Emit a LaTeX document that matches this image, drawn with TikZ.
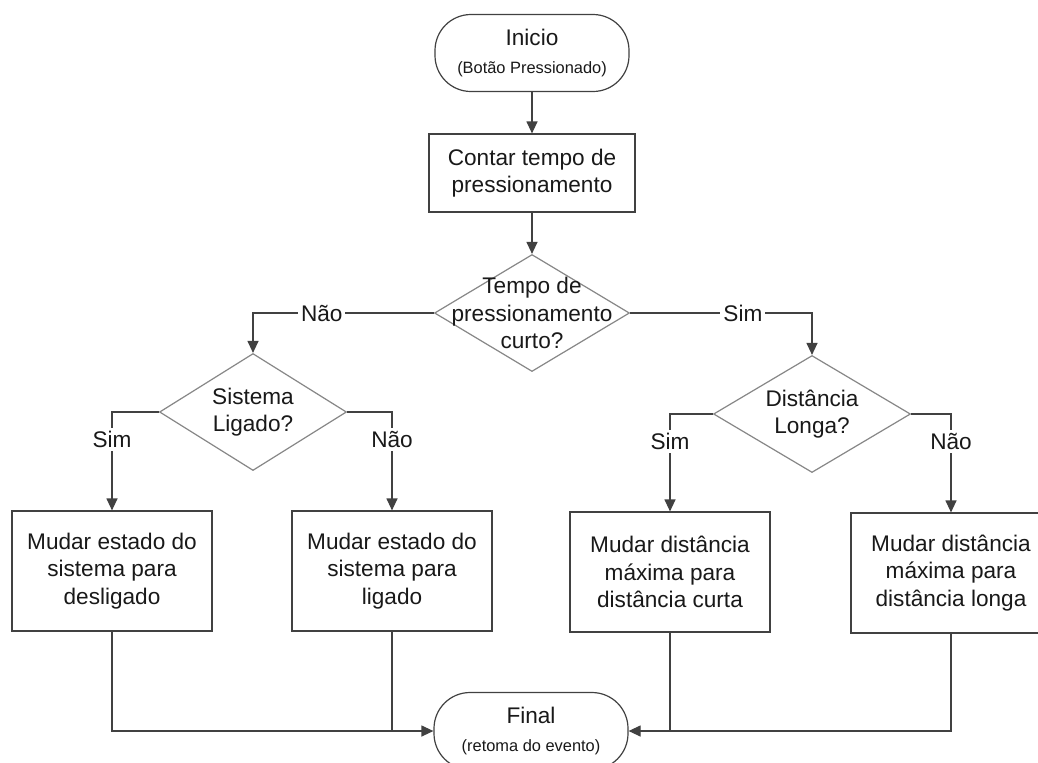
\documentclass[tikz,border=0pt]{standalone}
\usepackage{fontspec}
\setmainfont{Liberation Sans}
\usetikzlibrary{arrows.meta,positioning,shapes.geometric}
\definecolor{ink}{RGB}{25,25,25}
\definecolor{wire}{RGB}{65,65,65}
\definecolor{rim}{RGB}{135,135,135}
\newcommand{\txt}{\fontsize{11.3}{13.8}\selectfont}
\newcommand{\smalltxt}{\fontsize{8.2}{10}\selectfont}
\tikzset{
  term/.style={draw=wire,rounded corners=18pt,minimum width=97pt,minimum height=38.5pt,
    inner sep=2pt,align=center,font=\txt,text=ink},
  proc/.style={draw=wire,minimum width=100pt,minimum height=60pt,inner sep=2pt,
    align=center,font=\txt,text=ink},
  decision/.style={draw=rim,diamond,minimum width=97.5pt,minimum height=58.5pt,inner sep=0pt},
  dtext/.style={align=center,font=\txt,text=ink,inner sep=0pt},
  arr/.style={-{Triangle[length=6pt,width=5.5pt]},wire},
  cond/.style={fill=white,font=\txt,text=ink,inner sep=1.5pt},
}
\begin{document}
\begin{tikzpicture}[x=0.5pt,y=-0.5pt,line width=0.6pt]
  \useasboundingbox[fill=white] (0,0) rectangle (1038,762);
  \clip (0,0) rectangle (1038,762);
  \node[term] (ini) at (532,53) {Inicio\\{\smalltxt(Botão Pressionado)}};
  \node[proc,minimum width=103pt,minimum height=39pt] (cnt) at (532,173)
    {Contar tempo de\\pressionamento};
  \node[decision,label={[dtext]center:{Tempo de\\pressionamento\\curto?}}] (d1) at (532,313) {};
  \node[decision,minimum width=93.5pt,label={[dtext]center:{Sistema\\Ligado?}}] (d2) at (253,412) {};
  \node[decision,minimum width=98.5pt,label={[dtext]center:{Distância\\Longa?}}] (d3) at (812,414) {};
  \node[proc] (b1) at (112,571) {Mudar estado do\\sistema para\\desligado};
  \node[proc] (b2) at (392,571) {Mudar estado do\\sistema para\\ligado};
  \node[proc] (b3) at (670,572) {Mudar distância\\máxima para\\distância curta};
  \node[proc] (b4) at (951,573) {Mudar distância\\máxima para\\distância longa};
  \node[term] (fin) at (531,731) {Final\\{\smalltxt(retoma do evento)}};
  \draw[arr] (ini) -- (cnt);
  \draw[arr] (cnt) -- (d1);
  \draw[arr] (d1.west) -| node[cond,pos=0.31]{Não} (d2.north);
  \draw[arr] (d1.east) -| node[cond,pos=0.31]{Sim} (d3.north);
  \foreach \a/\s/\b/\t in {d2/west/b1/Sim,d2/east/b2/Não,d3/west/b3/Sim,d3/east/b4/Não}
    \draw[arr] (\a.\s) -| node[cond,pos=0.64]{\t} (\b.north);
  \draw[arr] (b1.south) |- (fin.west);
  \draw[wire] (b2.south) -- (b2.south |- fin.west);
  \draw[arr] (b4.south) |- (fin.east);
  \draw[wire] (b3.south) -- (b3.south |- fin.east);
\end{tikzpicture}
\end{document}
